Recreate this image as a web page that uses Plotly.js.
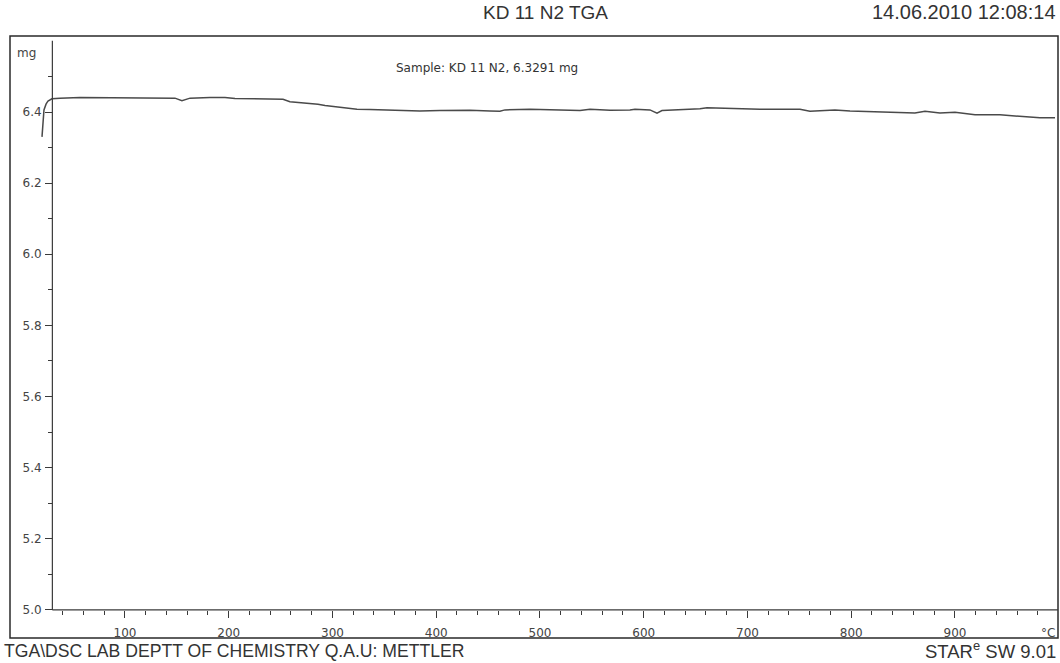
<!DOCTYPE html>
<html>
<head>
<meta charset="utf-8">
<script src="https://cdn.plot.ly/plotly-3.0.1.min.js"></script>
<style>
  html, body { margin: 0; padding: 0; background: #fff; }
  #chart { width: 1060px; height: 663px; }
</style>
</head>
<body>
<div id="chart"></div>
<script>
// TGA mass curve: temperature (°C) vs. sample mass (mg)
const temperature = [20.0, 21.0, 21.9, 23.9, 25.8, 29.6, 37.3, 56.6, 75.9, 95.2, 124.1, 148.2, 154.9, 162.7, 181.9, 196.4, 206.0, 220.5, 239.8, 252.3, 259.0, 268.7, 278.3, 286.0, 292.8, 302.4, 312.0, 316.9, 323.6, 336.1, 345.8, 365.1, 384.3, 403.6, 432.5, 451.8, 461.4, 466.3, 490.4, 519.3, 538.6, 548.2, 567.5, 586.7, 591.6, 606.0, 612.8, 617.6, 634.9, 654.2, 661.0, 683.1, 712.0, 731.3, 750.6, 760.2, 774.7, 784.3, 798.8, 827.7, 847.0, 861.4, 871.1, 885.5, 900.0, 919.3, 943.4, 962.7, 981.9, 996.4];
const mass = [6.330, 6.363, 6.406, 6.422, 6.431, 6.437, 6.439, 6.441, 6.441, 6.441, 6.440, 6.439, 6.432, 6.439, 6.441, 6.441, 6.438, 6.437, 6.437, 6.436, 6.429, 6.427, 6.423, 6.422, 6.418, 6.415, 6.413, 6.411, 6.408, 6.407, 6.406, 6.404, 6.403, 6.404, 6.405, 6.403, 6.402, 6.406, 6.408, 6.406, 6.404, 6.408, 6.405, 6.406, 6.408, 6.406, 6.397, 6.404, 6.406, 6.409, 6.412, 6.410, 6.408, 6.408, 6.408, 6.402, 6.404, 6.406, 6.403, 6.400, 6.399, 6.397, 6.402, 6.397, 6.399, 6.392, 6.392, 6.388, 6.384, 6.384];

const xTickVals = [100, 200, 300, 400, 500, 600, 700, 800, 900];
const xTickText = ["100", "200", "300", "400", "500", "600", "700", "800", "900"];
const yTickVals = [5.0, 5.2, 5.4, 5.6, 5.8, 6.0, 6.2, 6.4];
const yTickText = ["5.0", "5.2", "5.4", "5.6", "5.8", "6.0", "6.2", "6.4"];

const titleText = "KD 11 N2 TGA";
const dateText = "14.06.2010 12:08:14";
const sampleText = "Sample: KD 11 N2, 6.3291 mg";
const footerLeft = "TGA\\DSC LAB DEPTT OF CHEMISTRY Q.A.U: METTLER";
const footerRight = "STAR<sup>e</sup> SW 9.01";

const axisStart = 30;   // °C where the mass axis sits
const axisEnd = 1000;
const yMin = 5.0, yMax = 6.6;

const ink = "#3a3a3a";
const tickFont = { family: "DejaVu Sans, Verdana, sans-serif", size: 12, color: "#444" };
const headFamily = "Liberation Sans, Arial, sans-serif";

const trace = {
  x: temperature,
  y: mass,
  type: "scatter",
  mode: "lines",
  line: { color: "#4a4a4a", width: 1.5 },
  hoverinfo: "skip"
};

const layout = {
  width: 1060,
  height: 663,
  margin: { l: 10, r: 2, t: 36, b: 25 },
  paper_bgcolor: "#ffffff",
  plot_bgcolor: "#ffffff",
  showlegend: false,
  xaxis: {
    range: [-10.84, 999.3],
    anchor: "free",
    position: 0.0465,
    showgrid: false,
    zeroline: false,
    showline: false,
    tickmode: "array",
    tickvals: xTickVals,
    ticktext: xTickText,
    ticks: "outside",
    ticklen: 7,
    tickwidth: 1,
    tickcolor: ink,
    ticklabelstandoff: 5,
    tickfont: tickFont,
    minor: { tickmode: "array", tickvals: [40,60,80,120,140,160,180,220,240,260,280,320,340,360,380,420,440,460,480,520,540,560,580,620,640,660,680,720,740,760,780,820,840,860,880,920,940,960,980], ticks: "outside", ticklen: 4, tickcolor: ink, showgrid: false }
  },
  yaxis: {
    range: [4.9212, 6.6137],
    anchor: "free",
    position: 0.0401,
    showgrid: false,
    zeroline: false,
    showline: false,
    tickmode: "array",
    tickvals: yTickVals,
    ticktext: yTickText,
    ticks: "outside",
    ticklen: 7,
    tickwidth: 1,
    tickcolor: ink,
    ticklabelstandoff: 1,
    tickfont: tickFont,
    minor: { tickmode: "array", tickvals: [5.1, 5.3, 5.5, 5.7, 5.9, 6.1, 6.3, 6.5], ticks: "outside", ticklen: 4, tickcolor: ink, showgrid: false }
  },
  shapes: [
    // outer frame
    { type: "rect", xref: "paper", yref: "paper", x0: 0, x1: 1, y0: 0, y1: 1,
      line: { color: "#2a2a2a", width: 1.5 } },
    // mass axis
    { type: "line", xref: "x", yref: "y", x0: axisStart, x1: axisStart, y0: yMin, y1: yMax,
      line: { color: ink, width: 1.2 } },
    // temperature axis
    { type: "line", xref: "x", yref: "y", x0: axisStart, x1: axisEnd, y0: yMin, y1: yMin,
      line: { color: ink, width: 1.2 } }
  ],
  annotations: [
    { text: titleText, xref: "paper", yref: "paper", x: 0.511, y: 1, yshift: 24,
      xanchor: "center", yanchor: "middle", showarrow: false,
      font: { family: headFamily, size: 19, color: "#333" } },
    { text: dateText, xref: "paper", yref: "paper", x: 1, y: 1, yshift: 24,
      xanchor: "right", yanchor: "middle", showarrow: false,
      font: { family: headFamily, size: 20, color: "#333" } },
    { text: footerLeft, xref: "paper", yref: "paper", x: 0, xshift: -8, y: 0, yshift: -13,
      xanchor: "left", yanchor: "middle", showarrow: false,
      font: { family: headFamily, size: 17.6, color: "#333" } },
    { text: footerRight, xref: "paper", yref: "paper", x: 1, y: 0, yshift: -12,
      xanchor: "right", yanchor: "middle", showarrow: false,
      font: { family: headFamily, size: 18.5, color: "#333" } },
    { text: sampleText, xref: "paper", yref: "paper", x: 0.366, y: 1, yshift: -32,
      xanchor: "left", yanchor: "middle", showarrow: false,
      font: { family: "DejaVu Sans, Verdana, sans-serif", size: 12, color: "#333" } },
    { text: "mg", xref: "paper", yref: "paper", x: 0.005, y: 1, yshift: -17,
      xanchor: "left", yanchor: "middle", showarrow: false, font: tickFont },
    { text: "°C", xref: "x", yref: "y", x: 990, y: yMin, yshift: -23,
      xanchor: "center", yanchor: "middle", showarrow: false, font: tickFont }
  ]
};

Plotly.newPlot("chart", [trace], layout, { displayModeBar: false, staticPlot: true });
</script>
</body>
</html>
